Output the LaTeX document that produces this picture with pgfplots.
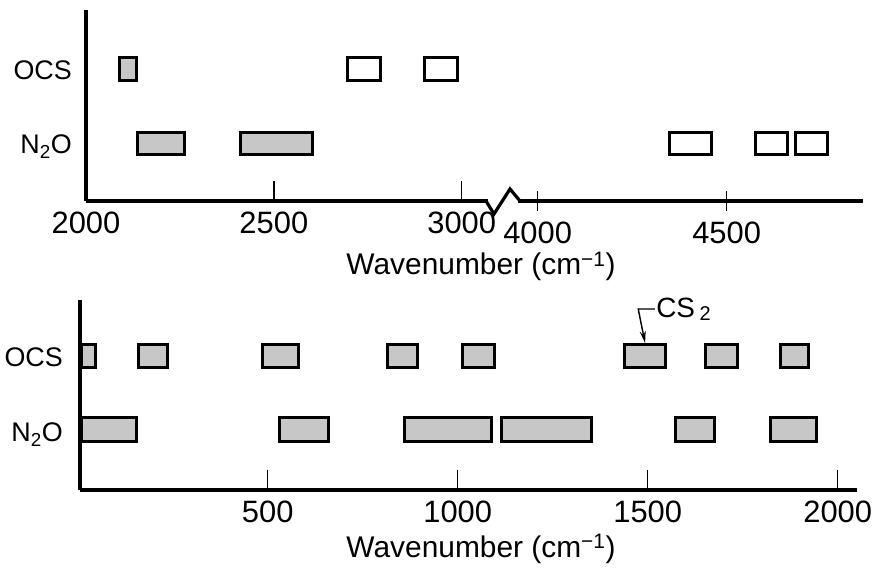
\documentclass[border=0pt]{standalone}
\usepackage{fontspec}
\setmainfont{Liberation Sans}
\usepackage{pgfplots}
\pgfplotsset{compat=1.18}
\usetikzlibrary{arrows.meta}
\definecolor{shade}{gray}{0.78}
\newcommand{\barbox}[5]{\addplot[draw=black, line width=3bp, fill=#5, line join=miter] coordinates {(#1,#3) (#2,#3) (#2,#4) (#1,#4)} -- cycle;}
\pgfplotsset{
  mybase/.style={
    scale only axis, clip=false,
    axis lines=left,
    axis line style={-, line width=3.2bp},
    tick align=inside,
    major tick length=20bp,
    xtick style={line width=1.3bp, black},
    ytick style={draw=none},
    xticklabel style={font=\fontsize{31}{36}\selectfont, anchor=base, inner sep=0pt, yshift=-33bp},
    yticklabel style={font=\fontsize{27}{32}\selectfont, anchor=base east, inner sep=0pt, yshift=-10bp},
  }
}
\begin{document}
\begin{tikzpicture}
\useasboundingbox (0,0) rectangle (874bp,572bp);
% ---------- top panel, left part ----------
\begin{axis}[mybase,
  at={(86bp,371bp)}, anchor=south west,
  width=402bp, height=191bp,
  xmin=2000, xmax=3070, ymin=0, ymax=191,
  xtick={2000,2500,3000}, xticklabels={2000,2500,3000},
  ytick={57,131.5}, yticklabels={N\textsubscript{2}O,OCS},
  yticklabel style={xshift=-14bp},
]
% OCS
\barbox{2090}{2135}{120}{143}{shade}
\barbox{2695}{2785}{120}{143}{white}
\barbox{2900}{2989}{120}{143}{white}
% N2O
\barbox{2136}{2261}{46}{68}{shade}
\barbox{2410}{2604}{46}{68}{shade}
\end{axis}
% ---------- top panel, right part ----------
\begin{axis}[mybase,
  at={(518bp,371bp)}, anchor=south west,
  width=345bp, height=191bp,
  axis x line=bottom, axis y line=none,
  every outer x axis line/.append style={-},
  x axis line style={-},
  xmin=3948, xmax=4860.7, ymin=0, ymax=191,
  xtick={4000,4500}, xticklabels={4000,4500},
]
% N2O
\barbox{4348}{4459}{46}{68}{white}
\barbox{4575}{4660}{46}{68}{white}
\barbox{4683}{4768}{46}{68}{white}
\end{axis}
% axis break
\draw[line width=3.2bp, line join=miter] (486bp,371bp) -- (494bp,358bp) -- (510bp,383bp) -- (520bp,371bp);
\node[anchor=base, inner sep=0pt, font=\fontsize{30}{36}\selectfont] at (481bp,297bp) {Wavenumber (cm\textsuperscript{−1})};
% ---------- bottom panel ----------
\begin{axis}[mybase,
  at={(80bp,82bp)}, anchor=south west,
  width=777bp, height=190bp,
  xmin=6, xmax=2050.7, ymin=0, ymax=190,
  xtick={500,1000,1500,2000}, xticklabels={500,1000,1500,2000},
  ytick={58,133.5}, yticklabels={N\textsubscript{2}O,OCS},
  yticklabel style={xshift=-17bp},
]
% OCS
\barbox{10}{48}{122}{145}{shade}
\barbox{161}{237}{122}{145}{shade}
\barbox{487}{580}{122}{145}{shade}
\barbox{815}{895}{122}{145}{shade}
\barbox{1012}{1096}{122}{145}{shade}
\barbox{1440}{1548}{122}{145}{shade}
\barbox{1653}{1737}{122}{145}{shade}
\barbox{1850}{1924}{122}{145}{shade}
% N2O
\barbox{10}{155}{48}{72}{shade}
\barbox{532}{661}{48}{72}{shade}
\barbox{859}{1089}{48}{72}{shade}
\barbox{1114}{1351}{48}{72}{shade}
\barbox{1572}{1675}{48}{72}{shade}
\barbox{1822}{1945}{48}{72}{shade}
% CS2 annotation
\draw[line width=1.4bp, -{Stealth[length=12bp,width=6bp]}] (axis cs:1519,181) -- (axis cs:1475,181) -- (axis cs:1493,147);
\node[anchor=base west, inner sep=0pt, font=\fontsize{28}{32}\selectfont] at (axis cs:1522,172) {CS\,\raisebox{-3bp}{\fontsize{20}{22}\selectfont 2}};
\end{axis}
\node[anchor=base, inner sep=0pt, font=\fontsize{30}{36}\selectfont] at (481bp,15bp) {Wavenumber (cm\textsuperscript{−1})};
\end{tikzpicture}
\end{document}
